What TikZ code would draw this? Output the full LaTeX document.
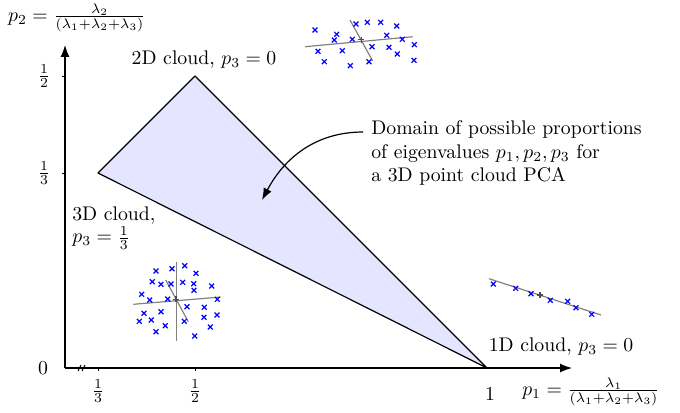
\documentclass[tikz,border=0pt]{standalone}
\usepackage{amsmath}
\usetikzlibrary{arrows.meta}
\begin{document}
\begin{tikzpicture}[x=0.507pt,y=-0.507pt,
  axis/.style={line width=0.6pt,-{Latex[length=6pt,width=4.5pt]}},
  tick/.style={line width=0.4pt},
  paxis/.style={gray,line width=0.6pt},
  pt/.pic={\draw[blue,line width=0.6pt] (-2.4,-2.4)--(2.4,2.4) (-2.4,2.4)--(2.4,-2.4);},
  ctr/.pic={\draw[black!70,line width=0.6pt] (-3,0)--(3,0) (0,-3)--(0,3);},
  lab/.style={inner sep=1pt}]
\useasboundingbox (0,0) rectangle (680,412);
% axes
\coordinate (O) at (65,368);
\coordinate (Xe) at (572,368);
\coordinate (Ye) at (65,45);
\draw[axis] (O) -- (Xe);
\draw[axis] (O) -- (Ye);
% break mark
\draw[line width=0.5pt] (78,371)--(81,365) (82,371)--(85,365);
% ticks
\draw[tick] (98,368)--(98,371) (195,368)--(195,371);
\draw[tick] (62,76)--(65,76) (62,173)--(65,173);
% tick labels
\node[lab] (l0) at (43,368) {$0$};
\node[lab] (ly2) at (44,76) {$\frac{1}{2}$};
\node[lab] (ly3) at (44,173) {$\frac{1}{3}$};
\node[lab] (lx3) at (98,391) {$\frac{1}{3}$};
\node[lab] (lx2) at (195,391) {$\frac{1}{2}$};
\node[lab] (l1) at (490,394) {$1$};
% axis labels
\node[lab] (p2) at (77,18) {$p_2=\frac{\lambda_2}{(\lambda_1+\lambda_2+\lambda_3)}$};
\node[lab] (p1) at (591,392) {$p_1=\frac{\lambda_1}{(\lambda_1+\lambda_2+\lambda_3)}$};
% domain
\coordinate (A) at (98,173);
\coordinate (B) at (195,76);
\coordinate (C) at (487,368);
\filldraw[fill=blue!10,draw=black,line width=0.6pt,line join=round] (A)--(B)--(C)--cycle;
% corner labels
\node[lab] (c2) at (204,60) {2D cloud, $p_3=0$};
\node[lab,anchor=west] (c3a) at (70,216) {3D cloud,};
\node[lab,anchor=west] (c3b) at (70,238) {$p_3=\frac{1}{3}$};
\node[lab] (c1) at (561,347) {1D cloud, $p_3=0$};
% note
\node[lab,align=left,anchor=west] (note) at (369,153) {Domain of possible proportions\\of eigenvalues $p_1,p_2,p_3$ for\\a 3D point cloud PCA};
\coordinate (s) at (363,132);
\coordinate (t) at (262,200);
\draw[line width=0.6pt,-{Latex[length=6pt,width=4.5pt]}] (s) to[out=180,in=62] (t);
% 2D cloud
\draw[paxis] (305,46.7)--(412.7,36.7);
\draw[paxis] (350,20)--(372.7,61);
\foreach \x/\y in {315/30,356/24,367.3/22.3,380.7/22.3,396.7/26,336.7/34.3,334.3/40,352.3/39.3,386.7/35.3,402.3/39.3,414.3/44.7,372/46.7,389/47.3,318/51.3,342.3/50.7,397.3/54,324.3/61.7,350.3/65.7,369/61.7,414/60.3}
  \pic at (\x,\y) {pt};
\pic at (361.3,39.7) {ctr};
% 3D cloud
\draw[paxis] (133.3,304.3)--(220.7,297);
\draw[paxis] (176.7,262.3)--(176.7,341);
\draw[paxis] (165.7,280)--(188.3,321.7);
\foreach \x/\y in {156/271,172/268.7,184.7/265.7,196/273.3,152.3/281.7,161/284.3,171/284,182.7/282.3,193.7/283.7,211.7/286,194/290.3,141.7/294.3,149.7/300,167.7/299,217.3/299.3,187/306.7,204.3/307.3,144/313.3,161/311.7,217/315,139.3/321.3,151.3/320,204/317.3,184.3/321.3,165.3/325.7,210.3/327,156/331.7,194.7/336}
  \pic at (\x,\y) {pt};
\pic at (176,299.3) {ctr};
% 1D cloud
\draw[paxis] (489,278.7)--(601,315);
\foreach \x/\y in {493.3/284,515.7/288.3,531/293.7,550.3/300.3,567.7/301.3,576/307.7,591.7/314.3}
  \pic at (\x,\y) {pt};
\pic at (540,295) {ctr};
\end{tikzpicture}
\end{document}
